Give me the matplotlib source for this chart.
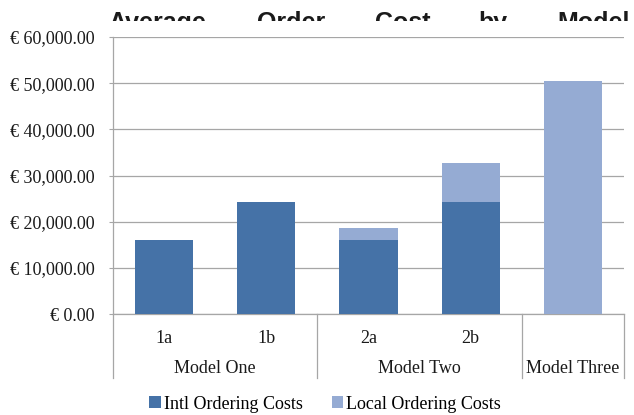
import matplotlib
matplotlib.use("Agg")
import matplotlib.pyplot as plt
from matplotlib.transforms import Bbox, blended_transform_factory
from matplotlib.ticker import FuncFormatter
from matplotlib.patches import Patch

# Data
sub_labels = ["1a", "1b", "2a", "2b", ""]
group_labels = ["Model One", "Model Two", "Model Three"]
group_spans = [(0, 1), (2, 3), (4, 4)]
intl_costs = [16000, 24300, 16000, 24300, 0]
local_costs = [0, 0, 2600, 8300, 50500]
y_ticks = [0, 10000, 20000, 30000, 40000, 50000, 60000]
title_words = ["Average", "Order", "Cost", "by", "Model"]
series_names = ["Intl Ordering Costs", "Local Ordering Costs"]

W, H = 634, 415
fig = plt.figure(figsize=(W / 100, H / 100), dpi=100)
ax = fig.add_axes([113 / W, 101 / H, 511 / W, 277 / H])

intl_color = "#4572A7"
local_color = "#95ABD3"
grid_color = "#A6A6A6"
serif = "Liberation Serif"

x = list(range(len(sub_labels)))
ax.bar(x, intl_costs, width=0.57, color=intl_color, zorder=3)
ax.bar(x, local_costs, width=0.57, bottom=intl_costs, color=local_color, zorder=3)

ax.set_xlim(-0.5, len(sub_labels) - 0.5)
ax.set_ylim(0, 60000)
ax.set_yticks(y_ticks)
ax.yaxis.set_major_formatter(FuncFormatter(lambda v, p: "€ {:,.2f}".format(v)))
ax.grid(axis="y", color=grid_color, linewidth=0.9, zorder=0)
ax.set_axisbelow(True)
for s in ["top", "right"]:
    ax.spines[s].set_visible(False)
for s in ["left", "bottom"]:
    ax.spines[s].set_color(grid_color)
    ax.spines[s].set_linewidth(0.9)
ax.set_xticks([])
ax.tick_params(axis="y", length=3, color=grid_color, pad=10)
for lbl in ax.get_yticklabels():
    lbl.set_fontfamily(serif)
    lbl.set_fontsize(13)
    lbl.set_color("#1a1a1a")

# Two-level category axis
trans = blended_transform_factory(ax.transData, ax.transAxes)
for i, s in enumerate(sub_labels):
    if s:
        ax.text(i, -0.087, s, transform=trans, ha="center", va="center",
                fontfamily=serif, fontsize=13, color="#1a1a1a")
for (a, b), g in zip(group_spans, group_labels):
    ax.text((a + b) / 2, -0.195, g, transform=trans, ha="center", va="center",
            fontfamily=serif, fontsize=13, color="#1a1a1a")
for xs in [-0.5, 1.5, 3.5, 4.5]:
    ax.plot([xs, xs], [0, -0.231], transform=trans, color=grid_color,
            linewidth=0.9, clip_on=False)

# Justified title, partly hidden behind the chart area
clip = Bbox.from_extents(0, H - 21, W, H)
for word, xl in zip(title_words, [108, 257, 375, 478, 557]):
    t = fig.text(xl / W, (H - 30) / H, word, ha="left", va="baseline",
                 fontfamily="Liberation Sans", fontweight="bold", fontsize=18,
                 color="#1a1a1a")
    t.set_clip_box(clip)
    t.set_clip_on(True)

handles = [Patch(facecolor=intl_color), Patch(facecolor=local_color)]
fig.legend(handles, series_names, loc="center", bbox_to_anchor=(325 / W, (H - 404) / H),
           ncol=2, frameon=False, prop={"family": serif, "size": 13},
           handlelength=0.65, handleheight=0.65, handletextpad=0.15,
           columnspacing=1.6, borderaxespad=0, borderpad=0)

fig.savefig("out.png", dpi=100)
